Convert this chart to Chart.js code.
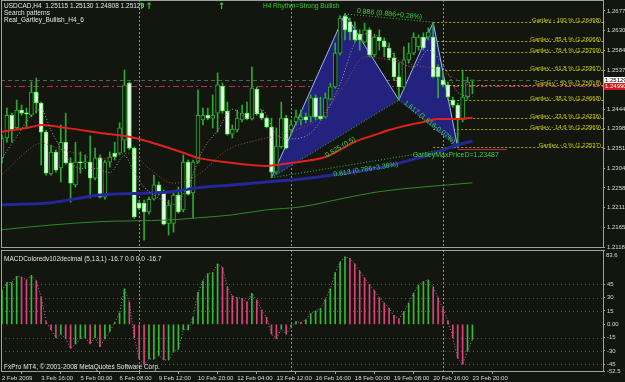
<!DOCTYPE html>
<html><head><meta charset="utf-8">
<script src="https://cdn.jsdelivr.net/npm/chart.js@4.4.1/dist/chart.umd.min.js"></script>
<style>
html,body{margin:0;padding:0;background:#12160f;width:625px;height:382px;overflow:hidden;}
#wrap{position:relative;width:625px;height:382px;}
canvas{position:absolute;left:0;}
#c1{top:0;} #c2{top:249px;}
.t{position:absolute;font-family:"Liberation Sans",Arial,sans-serif;font-size:6.5px;color:#e4e4e4;white-space:pre;line-height:7px;}
.g{color:#33cc33;}
.ar{position:absolute;font-family:"DejaVu Sans",sans-serif;font-size:9px;font-weight:bold;color:#22dd22;line-height:9px;}
</style></head><body>
<div id="wrap">
<canvas id="c1" width="625" height="249"></canvas>
<canvas id="c2" width="625" height="133"></canvas>
<div class="t" style="left:4px;top:2px">USDCAD,H4  1.25115 1.25130 1.24808 1.25129</div>
<div class="t" style="left:4px;top:9px">Search patterns</div>
<div class="t" style="left:4px;top:16px">Real_Gartley_Bullish_H4_6</div>
<div class="t g" style="left:263px;top:2px">H4 Rhythm=Strong Bullish</div>
<div class="ar" style="left:138px;top:2px">↑↑</div>
<div class="ar" style="left:218px;top:2px">↑</div>
<div class="t" style="left:4px;top:255px">MACDColoredv102decimal (5,13,1) -16.7 0.0 0.0 -16.7</div>
<div class="t" style="left:4px;top:363px">FxPro MT4, © 2001-2008 MetaQuotes Software Corp.</div>
</div>
<script>
// ---------------- DATA ----------------
const opens = [1.2329,1.2376,1.2430,1.2400,1.2442,1.2435,1.2430,1.2485,1.2459,1.2390,
1.2291,1.2343,1.2305,1.2366,1.2317,1.2265,1.2319,1.2317,1.2319,1.2281,
1.2329,1.2236,1.2319,1.2340,1.2340,1.2371,1.2506,1.2352,1.2222,1.2222,
1.2201,1.2231,1.2265,1.2246,1.2174,1.2174,1.2241,1.2206,1.2319,1.2246,
1.2319,1.2419,1.2430,1.2423,1.2435,1.2499,1.2440,1.2385,1.2395,1.2419,
1.2435,1.2421,1.2492,1.2435,1.2423,1.2402,1.2295,1.2355,1.2423,1.2395,
1.2414,1.2419,1.2426,1.2426,1.2471,1.2428,1.2426,1.2468,1.2497,1.2577,
1.2664,1.2651,1.2632,1.2622,1.2603,1.2632,1.2573,1.2615,1.2606,1.2589,
1.2566,1.2521,1.2497,1.2561,1.2577,1.2592,1.2615,1.2615,1.2615,1.2544,
1.2513,1.2502,1.2466,1.2454,1.2419,1.2473,1.25115];
const highs = [1.2383,1.2447,1.2435,1.2466,1.2454,1.2447,1.2509,1.2518,1.2461,1.2395,
1.2359,1.2348,1.2407,1.2435,1.2329,1.2366,1.2343,1.2336,1.2381,1.2352,
1.2336,1.2324,1.2343,1.2366,1.2412,1.2537,1.2509,1.2355,1.2229,1.2229,
1.2236,1.2288,1.2272,1.2253,1.2229,1.2246,1.2260,1.2336,1.2324,1.2324,
1.2490,1.2447,1.2447,1.2478,1.2530,1.2506,1.2461,1.2407,1.2442,1.2454,
1.2461,1.2544,1.2497,1.2442,1.2426,1.2423,1.2400,1.2461,1.2430,1.2419,
1.2442,1.2442,1.2435,1.2478,1.2478,1.2473,1.2483,1.2506,1.2601,1.2665,
1.2670,1.2660,1.2651,1.2632,1.2648,1.2637,1.2620,1.2632,1.2613,1.2601,
1.2577,1.2554,1.2592,1.2601,1.2625,1.2620,1.2625,1.2637,1.2650,1.2549,
1.2532,1.2509,1.2473,1.2459,1.2537,1.2520,1.25130];
const lows = [1.2317,1.2366,1.2366,1.2395,1.2430,1.2400,1.2426,1.2435,1.2312,1.2288,
1.2288,1.2295,1.2272,1.2314,1.2224,1.2260,1.2293,1.2305,1.2234,1.2277,
1.2234,1.2231,1.2307,1.2324,1.2336,1.2343,1.2348,1.2186,1.2206,1.2134,
1.2196,1.2229,1.2241,1.2170,1.2146,1.2153,1.2198,1.2201,1.2241,1.2186,
1.2317,1.2407,1.2419,1.2400,1.2390,1.2435,1.2383,1.2376,1.2390,1.2414,
1.2419,1.2419,1.2430,1.2419,1.2400,1.2282,1.2291,1.2352,1.2350,1.2383,
1.2407,1.2407,1.2412,1.2414,1.2419,1.2419,1.2423,1.2466,1.2494,1.2573,
1.2608,1.2608,1.2603,1.2584,1.2601,1.2568,1.2568,1.2584,1.2568,1.2561,
1.2513,1.2466,1.2490,1.2554,1.2573,1.2584,1.2584,1.2608,1.2518,1.2471,
1.2497,1.2466,1.2449,1.2354,1.2414,1.2468,1.24808];
const closes = [1.2376,1.2430,1.2395,1.2442,1.2435,1.2433,1.2485,1.2459,1.2390,1.2293,
1.2343,1.2300,1.2366,1.2317,1.2269,1.2319,1.2317,1.2319,1.2281,1.2329,
1.2236,1.2319,1.2331,1.2331,1.2400,1.2502,1.2352,1.2189,1.2210,1.2201,
1.2231,1.2265,1.2246,1.2172,1.2217,1.2241,1.2201,1.2319,1.2243,1.2319,
1.2430,1.2430,1.2423,1.2430,1.2502,1.2440,1.2385,1.2397,1.2423,1.2435,
1.2421,1.2494,1.2433,1.2423,1.2402,1.2295,1.2357,1.2423,1.2352,1.2407,
1.2426,1.2426,1.2419,1.2471,1.2426,1.2421,1.2471,1.2497,1.2577,1.2660,
1.2632,1.2627,1.2608,1.2608,1.2632,1.2573,1.2615,1.2606,1.2592,1.2566,
1.2521,1.2497,1.2561,1.2577,1.2615,1.2615,1.2589,1.2627,1.2521,1.2521,
1.2502,1.2473,1.2454,1.2419,1.2473,1.2509,1.25129];

// moving averages read at sampled bars: [bar, price]
const maRed = [[0,1.2391],[6,1.2402],[8,1.2407],[13,1.2400],[20,1.2388],[26,1.2379],[30,1.2367],[37,1.2341],[40,1.2329],[47,1.2317],[51,1.2312],[54,1.2310],[59,1.2317],[61,1.2320],[66,1.2331],[69,1.2348],[72,1.2367],[76,1.2383],[79,1.2395],[83,1.2407],[86,1.2414],[89,1.2421],[93,1.2421],[96,1.2424]];
const maBlue = [[0,1.2218],[10,1.2223],[20,1.2241],[34,1.2248],[40,1.2258],[47,1.2265],[54,1.2272],[61,1.2279],[66,1.2286],[72,1.2296],[78,1.2308],[85,1.2329],[89,1.2343],[93,1.2360],[96,1.2369]];
const maGreen = [[0,1.2159],[10,1.2170],[20,1.2178],[34,1.2182],[40,1.2187],[47,1.2194],[54,1.2206],[61,1.2213],[70,1.2234],[77,1.2249],[96,1.2270]];
const dotGray = [[0,1.2329],[3,1.2379],[6,1.2429],[8,1.2444],[10,1.2394],[13,1.2334],[16,1.2304],[19,1.2304],[22,1.2294],[25,1.2334],[27,1.2294],[29,1.2260],[32,1.2234],[35,1.2219],[38,1.2264],[41,1.2348],[44,1.2394],[47,1.2444],[50,1.2424],[53,1.2444],[56,1.2384],[59,1.2374],[63,1.2388],[66,1.2434],[69,1.2504],[72,1.2601],[75,1.2624],[78,1.2604],[81,1.2559],[84,1.2544],[87,1.2584],[91,1.2530],[93,1.2484],[96,1.2474]];
const dotBrown = [[0,1.2289],[4,1.2334],[8,1.2364],[11,1.2354],[15,1.2340],[20,1.2326],[26,1.2340],[30,1.2304],[35,1.2269],[40,1.2289],[46,1.2348],[52,1.2371],[57,1.2384],[61,1.2400],[65,1.2426],[70,1.2504],[74,1.2568],[79,1.2561],[84,1.2549],[89,1.2537],[93,1.2514],[96,1.2497]];

// Gartley XABCD pattern
const patternNames = ['X','A','B','C','D'];
const patternBars = [55, 70, 81, 88, 93];
const patternPrices = [1.2282, 1.2670, 1.2466, 1.2650, 1.2354];
const patternRatios = ['0.886 (0.886+0.28%)', '0.525 (0.5)', '1.617 (1.618-0.07%)', '0.813 (0.786+3.38%)'];

// Fibonacci (Gartley) levels
const fibPercents = ['100','85.4','76.4','61.8','50','38.2','23.6','14.6','0'];
const fibPrices = [1.26498,1.26066,1.25799,1.25367,1.25018,1.24668,1.24236,1.23969,1.23537];
const fibStartBar = 88;
const gartleyMaxPriceD = 1.23487;
const gartleyMaxEndBar = 103;

const bidPrice = 1.25129;
const redLinePrice = 1.2499;

// MACD histogram
const macd = [38,47,47,54,53,50,55,49,31,3,
-6,-15,-11,-16,-27,-22,-16,-15,-22,-15,
-25,-16,-8,2,13,40,25,-15,-39,-45,
-39,-39,-35,-40,-40,-31,-28,-6,-6,8,
36,49,57,58,68,64,42,32,30,29,
25,35,27,16,8,-11,-16,-5,-11,-3,
3,2,5,12,15,18,28,40,58,70,
76,74,68,60,52,45,38,30,24,18,
10,6,14,24,35,44,48,50,42,30,
18,4,-15,-38,-45,-30,-17];

// axes
const priceTickLabels = ['1.26770','1.26300','1.25840','1.25370','1.24440','1.23980','1.23510','1.23040','1.22580','1.22110','1.21650','1.21180'];
const macdTickLabels = ['83.6','45','30','15','0.00','-15','-30','-45','-52.5'];
const macdGridValues = [45,30,15,-15,-30,-45];
const xTickLabels = ['2 Feb 2009','3 Feb 16:00','5 Feb 00:00','6 Feb 08:00','9 Feb 12:00','10 Feb 20:00','12 Feb 04:00','13 Feb 12:00','16 Feb 16:00','18 Feb 00:00','19 Feb 08:00','20 Feb 16:00','23 Feb 20:00'];
const xTickBars = [0,8,16,24,32,40,48,56,64,72,80,88,96];
const separatorBars = [28, 59, 90];

// ---------------- STYLE / HELPERS ----------------
const BG = '#12160f';
const X_MIN = -0.2, X_MAX = 122.65;
const FONT = '"Liberation Sans", Arial, sans-serif';
Chart.defaults.font.family = FONT;

const pts = arr => arr.map(p => ({x: p[0], y: p[1]}));
const pp = i => ({x: patternBars[i], y: patternPrices[i]});

function seg(ctx, x1, y1, x2, y2, color, dash, w) {
  ctx.save();
  ctx.strokeStyle = color; ctx.lineWidth = w || 1; ctx.setLineDash(dash || []);
  ctx.beginPath(); ctx.moveTo(x1, y1); ctx.lineTo(x2, y2); ctx.stroke();
  ctx.restore();
}
function textAlong(ctx, xs, ys, a, b, text, off) {
  const x1 = xs.getPixelForValue(patternBars[a]), y1 = ys.getPixelForValue(patternPrices[a]);
  const x2 = xs.getPixelForValue(patternBars[b]), y2 = ys.getPixelForValue(patternPrices[b]);
  const ang = Math.atan2(y2 - y1, x2 - x1);
  ctx.save();
  ctx.translate((x1 + x2) / 2, (y1 + y2) / 2); ctx.rotate(ang);
  ctx.textAlign = 'center'; ctx.textBaseline = 'middle';
  ctx.fillText(text, 0, off);
  ctx.restore();
}

const priceOverlay = {
  id: 'priceOverlay',
  beforeDatasetsDraw(chart) {
    const {ctx, chartArea: a, scales: {x, y}} = chart;
    separatorBars.forEach(b => {
      const px = Math.round(x.getPixelForValue(b)) + 0.5;
      seg(ctx, px, 0, px, a.bottom, '#8c8c8c', [2, 2]);
    });
    const fx = x.getPixelForValue(fibStartBar);
    fibPrices.forEach(p => {
      const py = Math.round(y.getPixelForValue(p)) + 0.5;
      seg(ctx, fx, py, a.right, py, '#a8a800', [2, 2]);
    });
    let py = Math.round(y.getPixelForValue(bidPrice)) + 0.5;
    seg(ctx, a.left, py, a.right, py, '#5c5c5c', [4, 3]);
    py = Math.round(y.getPixelForValue(redLinePrice)) + 0.5;
    seg(ctx, a.left + 4, py, a.right, py, '#cc2060', [6, 3, 2, 3]);
  },
  afterDatasetsDraw(chart) {
    const {ctx, chartArea: a, scales: {x, y}} = chart;
    ctx.save();
    // fib labels
    ctx.font = '6px ' + FONT; ctx.fillStyle = '#d0d000';
    ctx.textAlign = 'right'; ctx.textBaseline = 'alphabetic';
    fibPrices.forEach((p, i) => {
      const py = Math.round(y.getPixelForValue(p));
      ctx.fillText('Gartley - ' + fibPercents[i] + ' % (' + p.toFixed(5) + ')', a.right - 2, py);
    });
    // pattern ratio labels
    ctx.font = '7px ' + FONT; ctx.fillStyle = '#3ccf3c';
    textAlong(ctx, x, y, 1, 3, patternRatios[0], -4);
    textAlong(ctx, x, y, 0, 2, patternRatios[1], 10);
    textAlong(ctx, x, y, 2, 4, patternRatios[2], -2);
    textAlong(ctx, x, y, 0, 4, patternRatios[3], 7);
    // max price D text
    ctx.textAlign = 'center'; ctx.textBaseline = 'middle';
    ctx.fillText('GartleyMaxPriceD=' + gartleyMaxPriceD.toFixed(5), x.getPixelForValue(92.6), y.getPixelForValue(1.2336));
    ctx.restore();
  },
  afterDraw(chart) {
    const {ctx, chartArea: a, scales: {y}} = chart;
    ctx.save();
    ctx.strokeStyle = '#a0a0a0'; ctx.lineWidth = 1;
    ctx.strokeRect(1.5, 0.5, a.right - 1.5 + 0.5, a.bottom - 0.5 + 0.5);
    ctx.font = '6px ' + FONT; ctx.textBaseline = 'middle'; ctx.textAlign = 'left';
    let py = Math.round(y.getPixelForValue(redLinePrice));
    ctx.fillStyle = '#d01818'; ctx.fillRect(604, py - 3, 21, 7);
    ctx.fillStyle = '#ffffff'; ctx.fillText(redLinePrice.toFixed(5), 605, py + 0.5);
    py = Math.round(y.getPixelForValue(bidPrice));
    ctx.fillStyle = '#ffffff'; ctx.fillRect(604, py - 3, 21, 6);
    ctx.fillStyle = '#000000'; ctx.fillText(bidPrice.toFixed(5), 605, py + 0.5);
    ctx.restore();
  }
};

const macdOverlay = {
  id: 'macdOverlay',
  beforeDatasetsDraw(chart) {
    const {ctx, chartArea: a, scales: {x, y}} = chart;
    macdGridValues.forEach(v => {
      const py = Math.round(y.getPixelForValue(v)) + 0.5;
      seg(ctx, a.left, py, a.right, py, '#555a55', [1, 3]);
    });
    separatorBars.forEach(b => {
      const px = Math.round(x.getPixelForValue(b)) + 0.5;
      seg(ctx, px, a.top, px, a.bottom, '#8c8c8c', [2, 2]);
    });
  },
  afterDraw(chart) {
    const {ctx, chartArea: a} = chart;
    ctx.save();
    ctx.strokeStyle = '#a0a0a0'; ctx.lineWidth = 1;
    ctx.strokeRect(1.5, 1.5, a.right - 1.5 + 0.5, a.bottom - 1.5 + 0.5);
    ctx.font = '6px ' + FONT; ctx.fillStyle = '#d8d8d8'; ctx.textBaseline = 'middle';
    ctx.fillText(macdTickLabels[0], 606, 6);
    ctx.restore();
  }
};

// ---------------- PRICE CHART ----------------
const bodyData = opens.map((o, i) => ({x: i, y: [o, closes[i]]}));
const wickData = lows.map((l, i) => ({x: i, y: [l, highs[i]]}));
const isBear = c => c.raw && c.raw.y[1] < c.raw.y[0];

new Chart(document.getElementById('c1'), {
  type: 'line',
  data: { datasets: [
    {type:'line', data:[pp(0),pp(1),pp(2)], borderColor:'#9ab8f0', borderWidth:1, backgroundColor:'#23237f', fill:'+1', pointRadius:0, tension:0, order:30},
    {type:'line', data:[pp(0),pp(2)], borderColor:'rgba(0,0,0,0)', borderWidth:0, fill:false, pointRadius:0, tension:0, order:31},
    {type:'line', data:[pp(2),pp(3),pp(4)], borderColor:'#9ab8f0', borderWidth:1, backgroundColor:'#23237f', fill:'+1', pointRadius:0, tension:0, order:30},
    {type:'line', data:[pp(2),pp(4)], borderColor:'rgba(0,0,0,0)', borderWidth:0, fill:false, pointRadius:0, tension:0, order:31},
    {type:'line', data:[pp(0),pp(2)], borderColor:'#3cb43c', borderWidth:1, borderDash:[1,2], pointRadius:0, fill:false, order:25},
    {type:'line', data:[pp(2),pp(4)], borderColor:'#3cb43c', borderWidth:1, borderDash:[1,2], pointRadius:0, fill:false, order:25},
    {type:'line', data:[pp(0),pp(4)], borderColor:'#3cb43c', borderWidth:1, borderDash:[1,2], pointRadius:0, fill:false, order:25},
    {type:'line', data:[pp(1),pp(3)], borderColor:'#3cb43c', borderWidth:1, borderDash:[1,2], pointRadius:0, fill:false, order:25},
    {type:'line', data:[{x:patternBars[4], y:gartleyMaxPriceD},{x:gartleyMaxEndBar, y:gartleyMaxPriceD}], borderColor:'#c8285a', borderWidth:1, pointRadius:0, fill:false, order:24},
    {type:'bar', data: wickData, grouped:false, barThickness:1, backgroundColor:'#2eaa2e', borderWidth:0, order:6},
    {type:'bar', data: bodyData, grouped:false, barThickness:4, minBarLength:1, borderSkipped:false, borderWidth:1,
      backgroundColor: c => isBear(c) ? '#f2fff2' : BG,
      borderColor: c => isBear(c) ? '#4cff4c' : '#2eaa2e', order:5},
    {type:'line', data: pts(maGreen), borderColor:'#2e8b22', borderWidth:1, pointRadius:0, fill:false, cubicInterpolationMode:'monotone', order:3},
    {type:'line', data: pts(maBlue), borderColor:'#25259c', borderWidth:3, pointRadius:0, fill:false, cubicInterpolationMode:'monotone', order:3},
    {type:'line', data: pts(maRed), borderColor:'#e0221c', borderWidth:2, pointRadius:0, fill:false, cubicInterpolationMode:'monotone', order:2},
    {type:'line', data: pts(dotGray), borderColor:'#9a9a9a', borderWidth:1, borderDash:[1,2], pointRadius:0, fill:false, cubicInterpolationMode:'monotone', order:1},
    {type:'line', data: pts(dotBrown), borderColor:'#a0522d', borderWidth:1, borderDash:[1,2], pointRadius:0, fill:false, cubicInterpolationMode:'monotone', order:1}
  ]},
  options: {
    responsive:false, animation:false, events:[],
    layout:{padding:{left:1, top:2, right:0, bottom:2}},
    plugins:{legend:{display:false}, tooltip:{enabled:false}},
    scales:{
      x:{type:'linear', min:X_MIN, max:X_MAX, display:false, offset:false},
      y:{type:'linear', position:'right', min:1.2118, max:1.2698, beginAtZero:false,
        afterFit: s => { s.width = 22; s.paddingTop = 0; s.paddingBottom = 0; },
        afterBuildTicks: s => { s.ticks = priceTickLabels.map(t => ({value: parseFloat(t)})); },
        ticks:{autoSkip:false, color:'#d8d8d8', font:{size:6}, padding:2, callback:(v, i) => priceTickLabels[i]},
        grid:{drawOnChartArea:false, drawTicks:true, tickLength:2, tickColor:'#a0a0a0', color:'#a0a0a0'},
        border:{display:false}}
    }
  },
  plugins:[priceOverlay]
});

// ---------------- MACD CHART ----------------
const macdData = macd.map((v, i) => ({x: i, y: v}));
new Chart(document.getElementById('c2'), {
  type: 'line',
  data: { datasets: [
    {type:'bar', data: macdData, grouped:false, barThickness:1, borderWidth:0,
      backgroundColor: c => (c.dataIndex > 0 && macd[c.dataIndex] < macd[c.dataIndex - 1]) ? '#e0407e' : '#33bb33', order:2},
    {type:'line', data: macdData, borderColor:'#8a8a8a', borderWidth:1, borderDash:[1,2], pointRadius:0, fill:false, tension:0, order:1}
  ]},
  options: {
    responsive:false, animation:false, events:[],
    layout:{padding:{left:1, top:1, right:0, bottom:0}},
    plugins:{legend:{display:false}, tooltip:{enabled:false}},
    scales:{
      x:{type:'linear', min:X_MIN, max:X_MAX, offset:false,
        afterFit: s => { s.height = 11; s.paddingLeft = 0; s.paddingRight = 0; },
        afterBuildTicks: s => { s.ticks = xTickBars.map(v => ({value: v})); },
        ticks:{autoSkip:false, maxRotation:0, minRotation:0, align:'start', color:'#d8d8d8', font:{size:6}, padding:1,
          callback:(v, i) => xTickLabels[i]},
        grid:{drawOnChartArea:false, tickLength:3, tickColor:'#a0a0a0', color:'#a0a0a0'},
        border:{display:false}},
      y:{type:'linear', position:'right', min:-52.5, max:83.6, beginAtZero:false,
        afterFit: s => { s.width = 22; s.paddingTop = 0; s.paddingBottom = 0; },
        afterBuildTicks: s => { s.ticks = macdTickLabels.map(t => ({value: parseFloat(t)})); },
        ticks:{autoSkip:false, color:'#d8d8d8', font:{size:6}, padding:2, callback:(v, i) => i === 0 ? '' : macdTickLabels[i]},
        grid:{drawOnChartArea:false, drawTicks:true, tickLength:2, tickColor:'#a0a0a0', color:'#a0a0a0'},
        border:{display:false}}
    }
  },
  plugins:[macdOverlay]
});
</script>
</body></html>
